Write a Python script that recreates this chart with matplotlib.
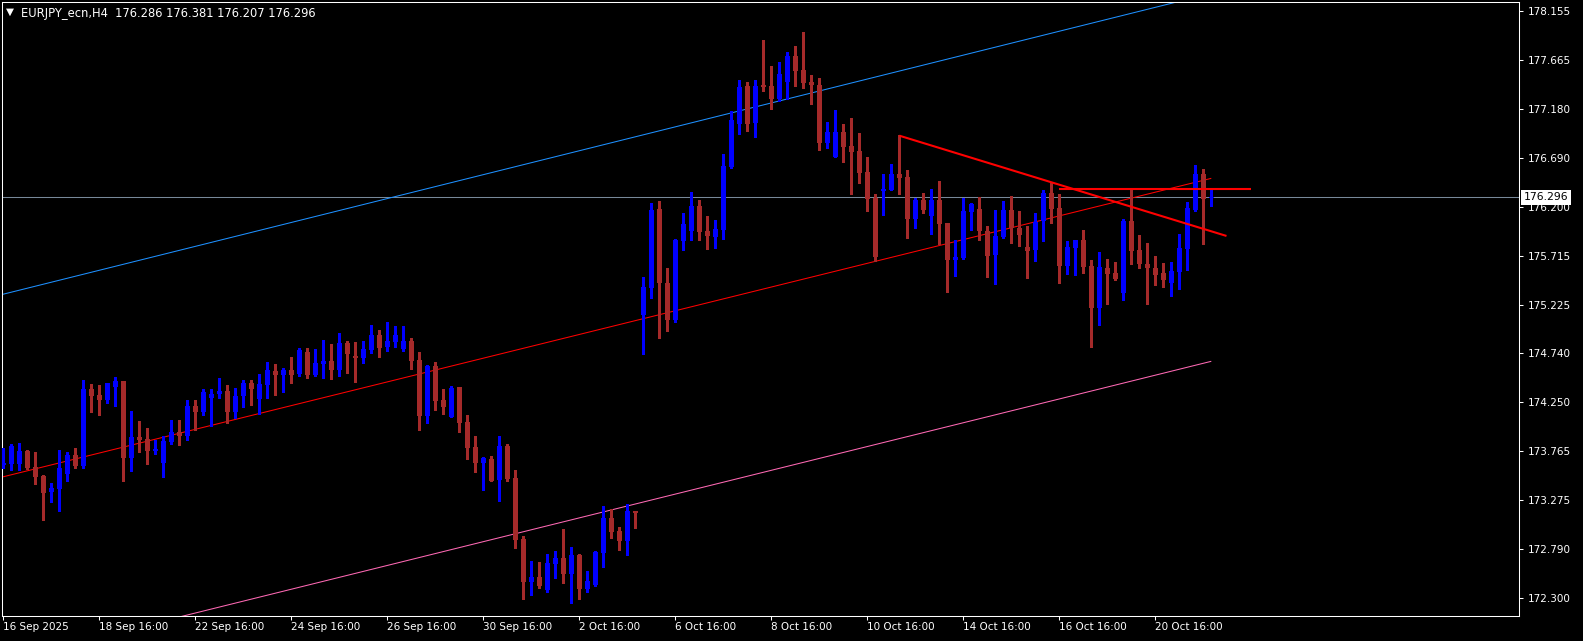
import matplotlib
matplotlib.use("Agg")
import matplotlib.pyplot as plt
import matplotlib.transforms as mtransforms
import numpy as np

symbol = "EURJPY_ecn,H4"
last_ohlc = [176.286, 176.381, 176.207, 176.296]

# H4 candles, oldest first
opens = [173.630, 173.638, 173.638, 173.765, 173.605, 173.519, 173.359, 173.386, 173.539, 173.725,
         173.619, 174.384, 174.324, 174.277, 174.404, 174.464, 173.698, 173.905, 173.885, 173.765,
         173.645, 173.858, 173.951, 173.918, 174.211, 174.158, 174.297, 174.337, 174.364, 174.158,
         174.317, 174.444, 174.284, 174.424, 174.563, 174.523, 174.570, 174.537, 174.750, 174.523,
         174.637, 174.663, 174.577, 174.843, 174.716, 174.696, 174.776, 174.923, 174.803, 174.856,
         174.783, 174.863, 174.670, 174.118, 174.610, 174.277, 174.104, 174.404, 174.058, 173.805,
         173.645, 173.684, 173.478, 173.817, 173.498, 172.886, 172.460, 172.507, 172.380, 172.640,
         172.700, 172.533, 172.726, 172.387, 172.427, 172.746, 173.099, 172.966, 172.866, 173.165,
         175.122, 175.394, 176.180, 175.441, 175.075, 175.860, 175.960, 176.213, 175.960, 175.900,
         175.973, 176.599, 177.031, 177.411, 177.038, 177.417, 177.411, 177.278, 177.451, 177.710,
         177.570, 177.451, 177.417, 176.838, 176.699, 176.951, 176.812, 176.758, 176.552, 176.293,
         176.359, 176.373, 176.532, 176.499, 176.080, 176.266, 176.113, 176.266, 176.040, 175.667,
         175.688, 176.154, 176.180, 175.961, 175.721, 175.901, 176.167, 175.987, 175.801, 175.774,
         176.060, 176.340, 176.193, 175.615, 175.794, 175.874, 175.615, 175.195, 175.595, 175.541,
         175.342, 176.060, 175.774, 175.635, 175.595, 175.541, 175.442, 175.555, 175.781, 176.174,
         176.533, 176.286]
highs = [173.798, 173.838, 173.845, 173.770, 173.752, 173.525, 173.446, 173.778, 173.752, 173.798,
         174.477, 174.437, 174.424, 174.444, 174.504, 174.464, 174.164, 174.064, 173.998, 173.871,
         173.911, 174.071, 174.071, 174.277, 174.271, 174.384, 174.384, 174.490, 174.424, 174.390,
         174.470, 174.470, 174.530, 174.650, 174.630, 174.590, 174.703, 174.790, 174.790, 174.783,
         174.869, 174.836, 174.943, 174.863, 174.856, 174.863, 175.023, 174.969, 175.049, 175.009,
         175.009, 174.889, 174.750, 174.623, 174.657, 174.384, 174.410, 174.404, 174.124, 173.918,
         173.705, 173.718, 173.917, 173.837, 173.578, 172.919, 172.666, 172.653, 172.739, 172.766,
         172.986, 172.806, 172.739, 172.566, 172.766, 173.219, 173.185, 173.006, 173.239, 173.165,
         175.501, 176.240, 176.259, 175.594, 175.880, 176.140, 176.353, 176.273, 176.113, 176.073,
         176.732, 177.158, 177.471, 177.451, 177.471, 177.870, 177.610, 177.644, 177.750, 177.803,
         177.943, 177.517, 177.490, 177.051, 177.171, 177.031, 177.091, 176.938, 176.699, 176.333,
         176.532, 176.632, 176.918, 176.572, 176.293, 176.339, 176.379, 176.459, 176.040, 175.874,
         176.293, 176.240, 176.300, 176.007, 176.167, 176.260, 176.307, 176.160, 176.014, 176.140,
         176.373, 176.440, 176.327, 175.861, 175.874, 175.974, 175.674, 175.754, 175.681, 175.654,
         176.080, 176.366, 175.921, 175.841, 175.708, 175.641, 175.654, 175.934, 176.253, 176.619,
         176.579, 176.381]
lows = [173.600, 173.579, 173.572, 173.590, 173.439, 173.080, 173.259, 173.166, 173.465, 173.598,
        173.598, 174.158, 174.124, 174.244, 174.217, 173.465, 173.565, 173.758, 173.638, 173.738,
        173.505, 173.838, 173.825, 173.878, 173.971, 174.124, 174.011, 174.297, 174.044, 174.098,
        174.204, 174.224, 174.131, 174.297, 174.324, 174.357, 174.444, 174.510, 174.490, 174.510,
        174.497, 174.484, 174.517, 174.543, 174.457, 174.643, 174.743, 174.703, 174.763, 174.803,
        174.763, 174.583, 173.978, 174.044, 174.177, 174.138, 174.104, 173.958, 173.685, 173.559,
        173.379, 173.465, 173.265, 173.465, 172.799, 172.287, 172.327, 172.400, 172.360, 172.500,
        172.447, 172.250, 172.287, 172.360, 172.420, 172.606, 172.899, 172.779, 172.726, 172.999,
        174.730, 175.295, 174.895, 174.962, 175.055, 175.774, 175.874, 175.874, 175.780, 175.794,
        175.880, 176.592, 176.932, 176.958, 176.898, 177.357, 177.178, 177.258, 177.278, 177.411,
        177.391, 177.231, 176.772, 176.792, 176.699, 176.652, 176.333, 176.439, 176.160, 175.661,
        176.120, 176.373, 176.333, 175.893, 175.993, 176.140, 175.933, 175.834, 175.348, 175.508,
        175.681, 175.967, 175.867, 175.501, 175.435, 175.894, 175.841, 175.814, 175.495, 175.661,
        175.861, 176.040, 175.442, 175.535, 175.521, 175.541, 174.803, 175.022, 175.235, 175.475,
        175.269, 175.635, 175.595, 175.235, 175.422, 175.402, 175.315, 175.382, 175.575, 176.160,
        175.834, 176.207]
closes = [173.648, 173.818, 173.765, 173.598, 173.505, 173.346, 173.399, 173.598, 173.725, 173.619,
          174.384, 174.317, 174.277, 174.444, 174.464, 173.698, 173.905, 173.878, 173.765, 173.785,
          173.865, 173.951, 173.918, 174.211, 174.158, 174.350, 174.337, 174.364, 174.158, 174.317,
          174.444, 174.384, 174.430, 174.570, 174.523, 174.570, 174.523, 174.770, 174.523, 174.643,
          174.663, 174.577, 174.843, 174.736, 174.696, 174.783, 174.923, 174.796, 174.863, 174.923,
          174.863, 174.663, 174.118, 174.617, 174.264, 174.204, 174.397, 174.044, 173.798, 173.645,
          173.698, 173.465, 173.817, 173.485, 172.879, 172.460, 172.507, 172.420, 172.646, 172.700,
          172.533, 172.726, 172.387, 172.467, 172.759, 173.099, 172.959, 172.866, 173.165, 173.145,
          175.401, 176.173, 175.441, 175.075, 175.874, 176.033, 176.213, 175.953, 175.913, 175.980,
          176.612, 177.071, 177.397, 177.031, 177.411, 177.397, 177.278, 177.530, 177.710, 177.557,
          177.437, 177.417, 176.838, 176.951, 176.951, 176.798, 176.752, 176.539, 176.279, 175.700,
          176.379, 176.532, 176.486, 176.080, 176.266, 176.173, 176.266, 176.033, 175.667, 175.700,
          176.160, 176.233, 175.961, 175.714, 175.907, 176.167, 175.987, 175.921, 175.761, 176.054,
          176.340, 176.180, 175.615, 175.801, 175.874, 175.601, 175.195, 175.601, 175.535, 175.481,
          176.060, 175.761, 175.635, 175.588, 175.521, 175.475, 175.561, 175.794, 176.193, 176.533,
          176.280, 176.296]

date_ticks = [0, 12, 24, 36, 48, 60, 72, 84, 96, 108, 120, 132, 144]
date_labels = ["16 Sep 2025", "18 Sep 16:00", "22 Sep 16:00", "24 Sep 16:00", "26 Sep 16:00",
               "30 Sep 16:00", "2 Oct 16:00", "6 Oct 16:00", "8 Oct 16:00", "10 Oct 16:00",
               "14 Oct 16:00", "16 Oct 16:00", "20 Oct 16:00"]
price_ticks = [178.155, 177.665, 177.180, 176.690, 176.200, 175.715, 175.225,
               174.740, 174.250, 173.765, 173.275, 172.790, 172.300]

# drawn objects as (bar index, price) anchor pairs
channel_top = [(-1, 175.310), (151, 178.332)]
channel_mid = [(-1, 173.488), (151, 176.486)]
channel_low = [(0, 171.673), (151, 174.660)]
trend_down = [(112, 176.912), (152.9, 175.911)]
level_line = [(132, 176.375), (156, 176.375)]

W, H = 1583, 641
fig = plt.figure(figsize=(W / 100, H / 100), dpi=100, facecolor="black")
ax = fig.add_axes([2 / W, 25 / H, 1517 / W, 614 / H], facecolor="black")

o = np.array(opens); h = np.array(highs); l = np.array(lows); c = np.array(closes)
x = np.arange(len(o))
up = c >= o
col = np.where(up, "#0000ff", "#a52a2a")

ax.vlines(x, l, h, colors=col, linewidth=0.75, antialiased=False, zorder=3)
body_h = np.maximum(np.abs(c - o), 0.008)
ax.bar(x, body_h, bottom=np.minimum(o, c), width=0.62, color=col,
       linewidth=0, antialiased=False, zorder=4)

def seg(pts, **kw):
    xs, ys = zip(*pts)
    ax.plot(xs, ys, solid_capstyle="butt", **kw)

seg(channel_top, color="#1e90ff", lw=0.75, zorder=2)
seg(channel_mid, color="#ff0000", lw=0.75, zorder=2)
seg(channel_low, color="#ff69b4", lw=0.75, zorder=2)
seg(trend_down, color="#ff0000", lw=1.5, zorder=5)
seg(level_line, color="#ff0000", lw=1.5, zorder=5)

ax.axhline(last_ohlc[3], color="#778899", lw=0.75, zorder=1)

ax.set_xlim((2 - 3.3) / 8, (1519 - 3.3) / 8)
ax.set_ylim(172.118, 178.246)

for s in ax.spines.values():
    s.set_color("white")
    s.set_linewidth(0.75)

ax.yaxis.tick_right()
ax.set_yticks(price_ticks)
ax.set_yticklabels([f"{p:.3f}" for p in price_ticks])
ax.set_xticks(date_ticks)
ax.set_xticklabels(date_labels)
for lab in ax.get_xticklabels():
    lab.set_ha("left")
ax.tick_params(axis="both", colors="white", labelsize=7.5, length=3, width=0.75, direction="out")
ax.tick_params(axis="y", pad=3)
ax.tick_params(axis="x", pad=1.5)

# current price tag on the price scale
tr = mtransforms.blended_transform_factory(fig.transFigure, ax.transData)
fig.text(1524 / W, last_ohlc[3], f"{last_ohlc[3]:.3f}", transform=tr, color="black",
         fontsize=7.8, va="center", ha="left", zorder=10,
         bbox=dict(boxstyle="square,pad=0.25", fc="white", ec="none"))

# header
fig.text(6 / W, 1 - 12 / H, "\u25bc", color="white", fontsize=7.5, va="center", ha="left")
fig.text(21 / W, 1 - 13 / H, symbol + "  " + " ".join(f"{v:.3f}" for v in last_ohlc),
         color="white", fontsize=8.3, va="center", ha="left")

fig.savefig("out.png", dpi=100, facecolor="black")
